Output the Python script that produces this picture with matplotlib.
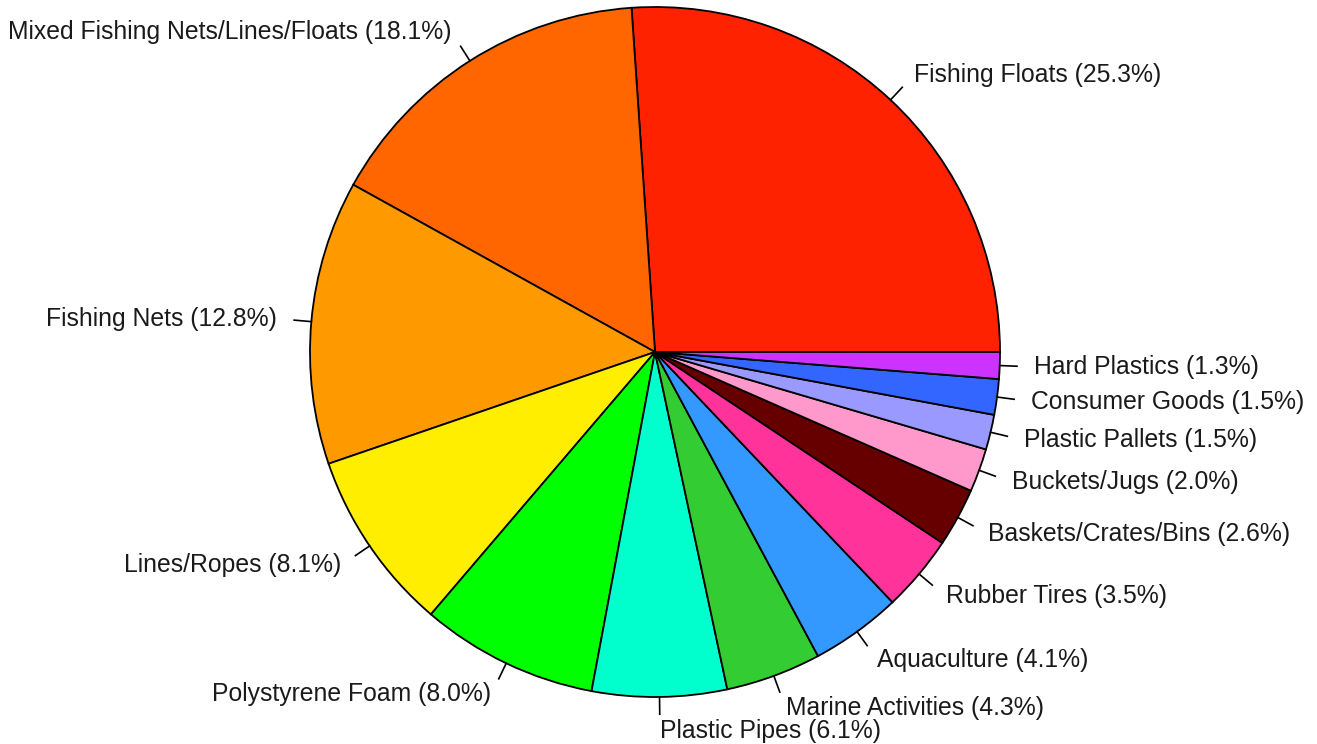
import numpy as np
import matplotlib
matplotlib.use("Agg")
import matplotlib.pyplot as plt

categories = ["Fishing Floats", "Mixed Fishing Nets/Lines/Floats", "Fishing Nets",
              "Lines/Ropes", "Polystyrene Foam", "Plastic Pipes", "Marine Activities",
              "Aquaculture", "Rubber Tires", "Baskets/Crates/Bins", "Buckets/Jugs",
              "Plastic Pallets", "Consumer Goods", "Hard Plastics"]
# percentages printed in the labels
label_percents = [25.3, 18.1, 12.8, 8.1, 8.0, 6.1, 4.3, 4.1, 3.5, 2.6, 2.0, 1.5, 1.5, 1.3]
# slice sizes as drawn in the picture (degrees of arc)
slice_sizes = [93.9, 57.1, 47.9, 30.6, 29.9, 22.7, 16.1, 15.3, 12.9, 9.9, 7.3, 5.9, 6.0, 4.5]
colors = ["#FF2200", "#FF6600", "#FF9900", "#FFEE00", "#00FF00", "#00FFCC", "#33CC33",
          "#3399FF", "#FF3399", "#660000", "#FF99CC", "#9999FF", "#3366FF", "#CC33FF"]

W, H = 1317, 744
fig = plt.figure(figsize=(W / 100, H / 100), dpi=100)
ax = fig.add_axes([0, 0, 1, 1])
cx, cy, R = 655, H - 352, 345

wedges, _ = ax.pie(slice_sizes, colors=colors, startangle=0, counterclock=True,
                   radius=R, center=(cx, cy),
                   wedgeprops=dict(edgecolor="black", linewidth=1.3))
ax.set_xlim(0, W)
ax.set_ylim(0, H)
ax.set_aspect("equal")
ax.axis("off")

for w, cat, p in zip(wedges, categories, label_percents):
    ang = np.deg2rad((w.theta1 + w.theta2) / 2)
    c, s = np.cos(ang), np.sin(ang)
    ax.plot([cx + R * c, cx + 1.05 * R * c], [cy + R * s, cy + 1.05 * R * s],
            color="black", lw=1.2)
    ax.text(cx + 1.1 * R * c, cy + 1.1 * R * s, f"{cat} ({p:.1f}%)",
            ha="left" if c >= 0 else "right", va="center",
            fontsize=17.8, family="Liberation Sans", color="#1a1a1a")

fig.savefig("out.png", dpi=100, facecolor="white")
